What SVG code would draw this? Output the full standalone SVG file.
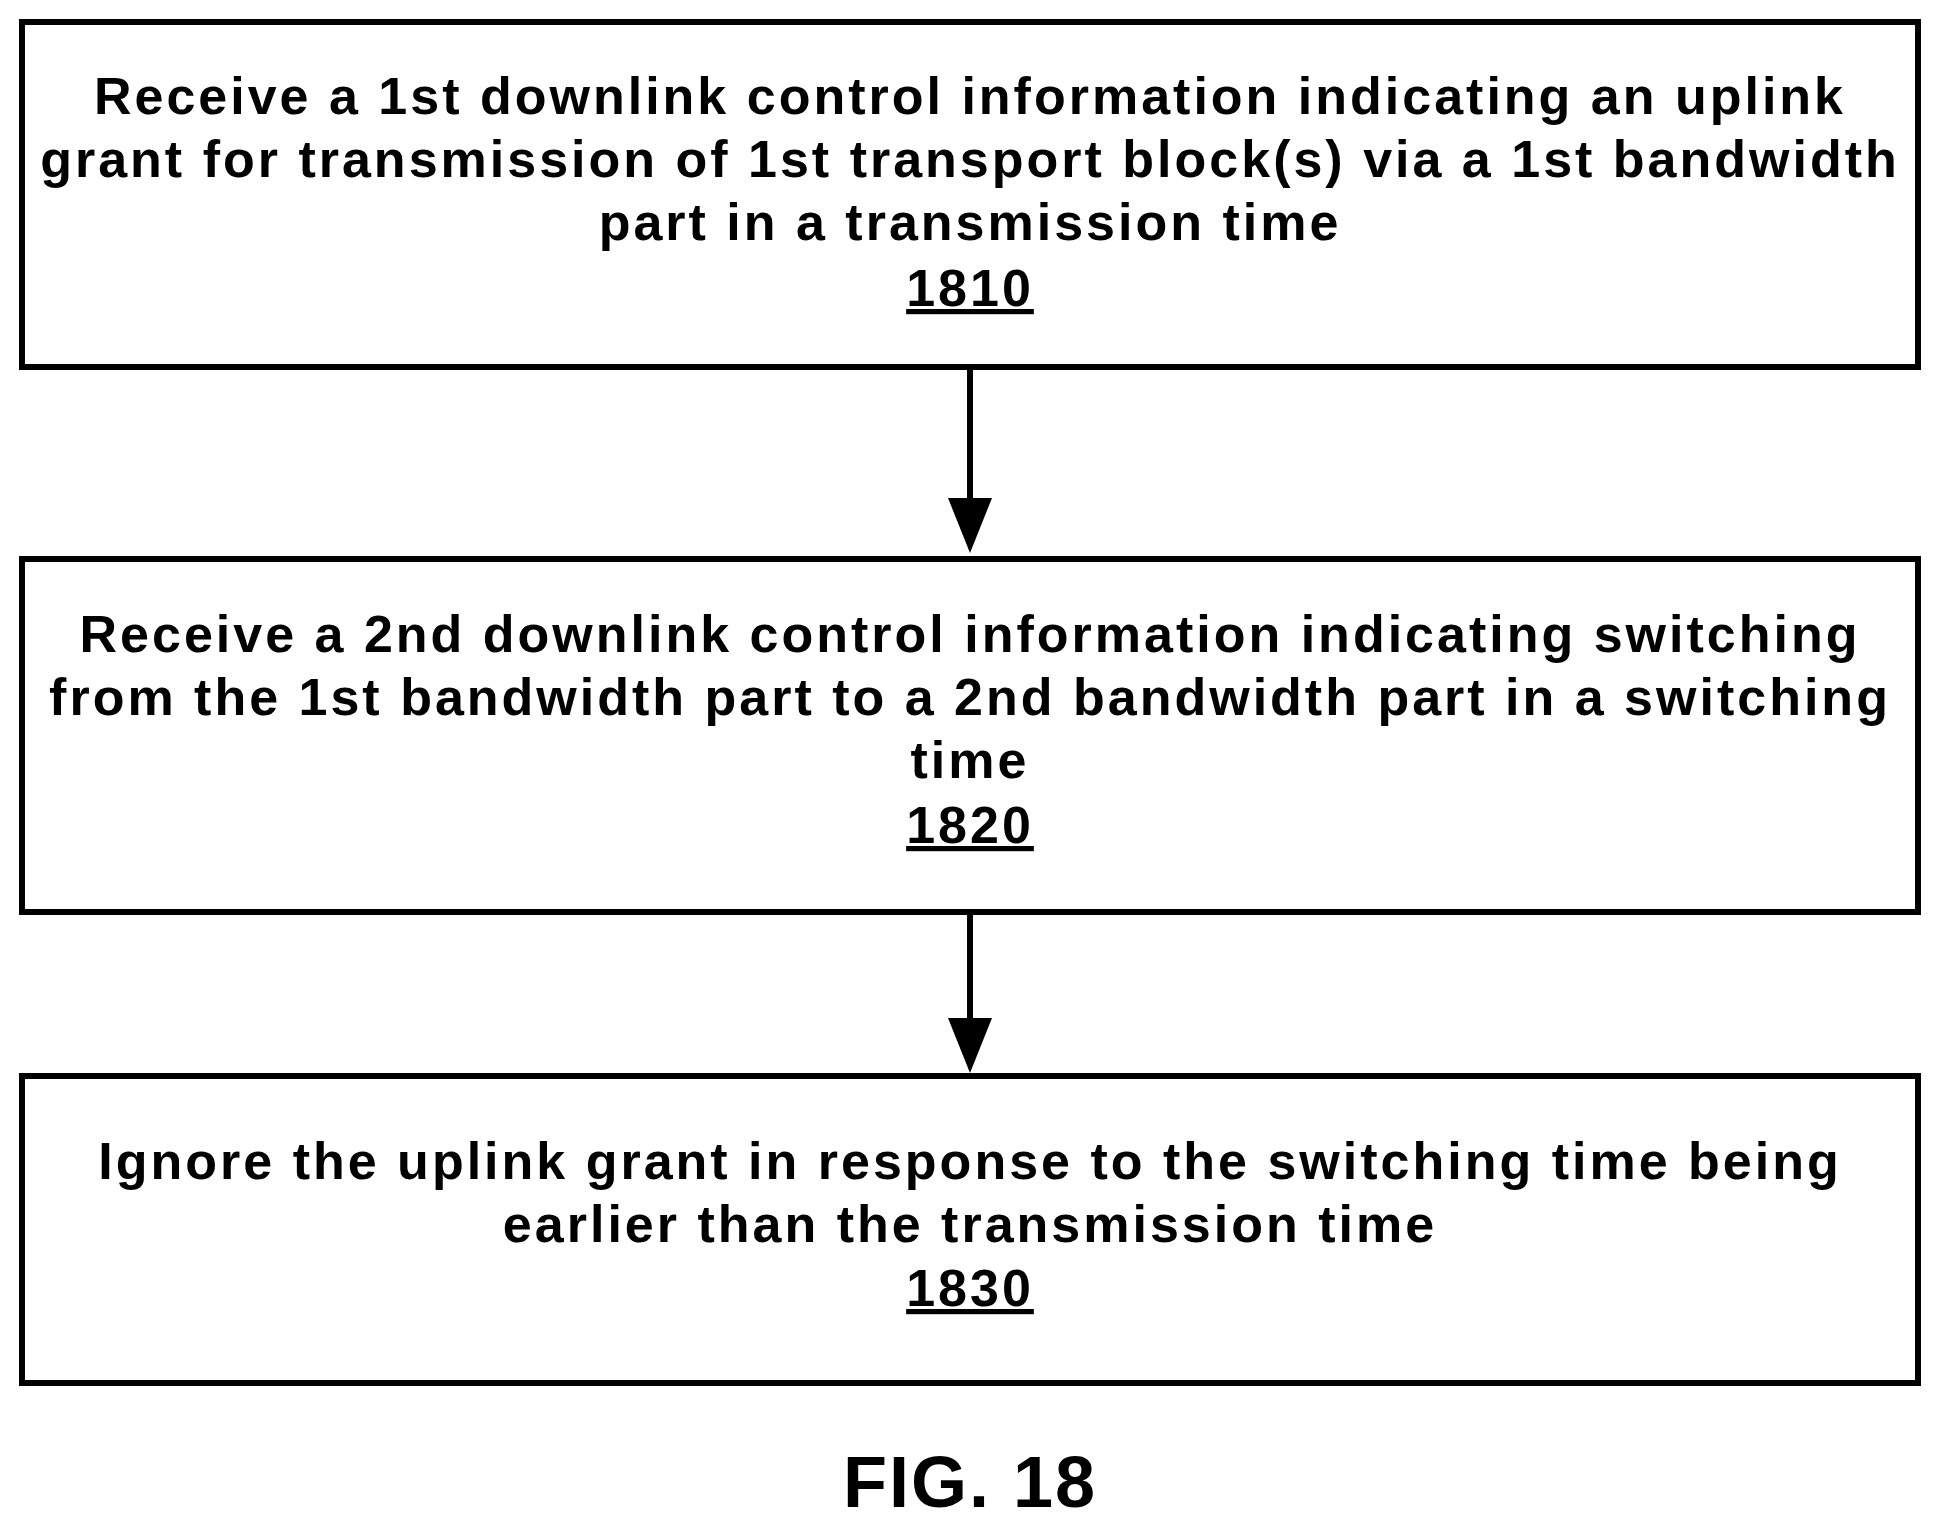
<svg xmlns="http://www.w3.org/2000/svg" width="1940" height="1529" viewBox="0 0 1940 1529">
<style>
.box{fill:#fff;stroke:#000;stroke-width:6}
text{font-family:"Liberation Sans",Arial,sans-serif;font-weight:bold;font-size:52px;letter-spacing:3px;text-anchor:middle;fill:#000}
.ref{text-decoration:underline}
.con{stroke:#000;stroke-width:6;fill:none}
</style>
<rect width="1940" height="1529" fill="#fff"/>
<g id="n1810"><rect class="box" x="22" y="22" width="1896" height="345"/>
<text x="970" y="114">Receive a 1st downlink control information indicating an uplink</text>
<text x="970" y="177">grant for transmission of 1st transport block(s) via a 1st bandwidth</text>
<text x="970" y="240">part in a transmission time</text>
<text x="970" y="306" class="ref">1810</text></g>
<g id="n1820"><rect class="box" x="22" y="559" width="1896" height="353"/>
<text x="970" y="652">Receive a 2nd downlink control information indicating switching</text>
<text x="970" y="715">from the 1st bandwidth part to a 2nd bandwidth part in a switching</text>
<text x="970" y="778">time</text>
<text x="970" y="843" class="ref">1820</text></g>
<g id="n1830"><rect class="box" x="22" y="1076" width="1896" height="307"/>
<text x="970" y="1179">Ignore the uplink grant in response to the switching time being</text>
<text x="970" y="1242">earlier than the transmission time</text>
<text x="970" y="1306" class="ref">1830</text></g>
<g id="connectors">
<line class="con" x1="970" y1="367" x2="970" y2="510"/><path d="M948,498 L992,498 L970,553 z"/>
<line class="con" x1="970" y1="912" x2="970" y2="1030"/><path d="M948,1018 L992,1018 L970,1073 z"/>
</g>
<text x="970" y="1507" style="font-size:72px;letter-spacing:2px">FIG. 18</text>
</svg>
